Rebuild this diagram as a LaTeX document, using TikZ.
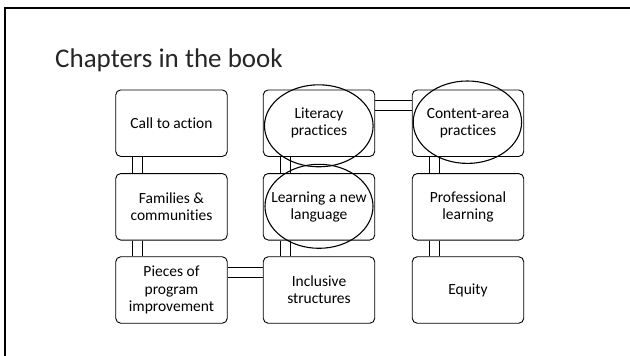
\documentclass[tikz,border=0pt]{standalone}
\usepackage{fontspec}
\setmainfont{Carlito}[Ligatures=NoCommon]
\begin{document}
\begin{tikzpicture}[x=1pt,y=-1pt,
  chapbox/.style={draw=black, line width=0.9pt, rounded corners=5pt,
    minimum width=111.5pt, minimum height=66.5pt, inner sep=0pt, align=center,
    font=\fontsize{15.5}{17.3}\selectfont},
  link/.style={draw=black, line width=0.9pt},
  ring/.style={draw=black, line width=1.1pt},
  frameline/.style={draw=black, line width=2pt}
]
\useasboundingbox (0,0) rectangle (630,356);
% slide frame (top and left only)
\coordinate (ftl) at (5,8);
\coordinate (ftr) at (630,8);
\coordinate (fbl) at (5,356);
\draw[frameline] (fbl) -- (ftl) -- (ftr);
% title
\node[anchor=base west, inner sep=0pt, text=black!85, font=\fontsize{27}{30}\selectfont] (title) at (55,67) {Chapters in the book};
% boxes
\node[chapbox] (call) at (171.5,123.2) {Call to action};
\node[chapbox] (fam)  at (171.5,206.8) {Families \&\\communities};
\node[chapbox] (pie)  at (171.5,290.0) {Pieces of\\program\\improvement};
\node[chapbox] (lit)  at (319.0,123.2) {Literacy\\practices};
\node[chapbox] (lang) at (319.0,206.8) {Learning a new\\language};
\node[chapbox] (inc)  at (319.0,290.0) {Inclusive\\structures};
\node[chapbox] (con)  at (468.0,123.2) {Content-area\\practices};
\node[chapbox] (pro)  at (468.0,206.8) {Professional\\learning};
\node[chapbox] (equ)  at (468.0,290.0) {Equity};
% double-line connectors (vertical)
\foreach \a/\b in {call/fam, fam/pie, lit/lang, lang/inc, con/pro, pro/equ}{
  \draw[link] ([xshift=17.5pt]\a.south west) -- ([xshift=17.5pt]\b.north west);
  \draw[link] ([xshift=27.5pt]\a.south west) -- ([xshift=27.5pt]\b.north west);
}
% double-line connectors (horizontal)
\foreach \a/\b in {lit/con, pie/inc}{
  \draw[link] ([yshift=-10.7pt]\a.north east) -- ([yshift=-10.7pt]\b.north west);
  \draw[link] ([yshift=-20.7pt]\a.north east) -- ([yshift=-20.7pt]\b.north west);
}
% ellipses
\coordinate (e1) at (318.8,125.8);
\coordinate (e2) at (319.0,206.3);
\coordinate (e3) at (467.4,122.2);
\draw[ring] (e1) ellipse [x radius=54.3, y radius=41];
\draw[ring] (e2) ellipse [x radius=54, y radius=42];
\draw[ring] (e3) ellipse [x radius=54.2, y radius=41.2];
\end{tikzpicture}
\end{document}
